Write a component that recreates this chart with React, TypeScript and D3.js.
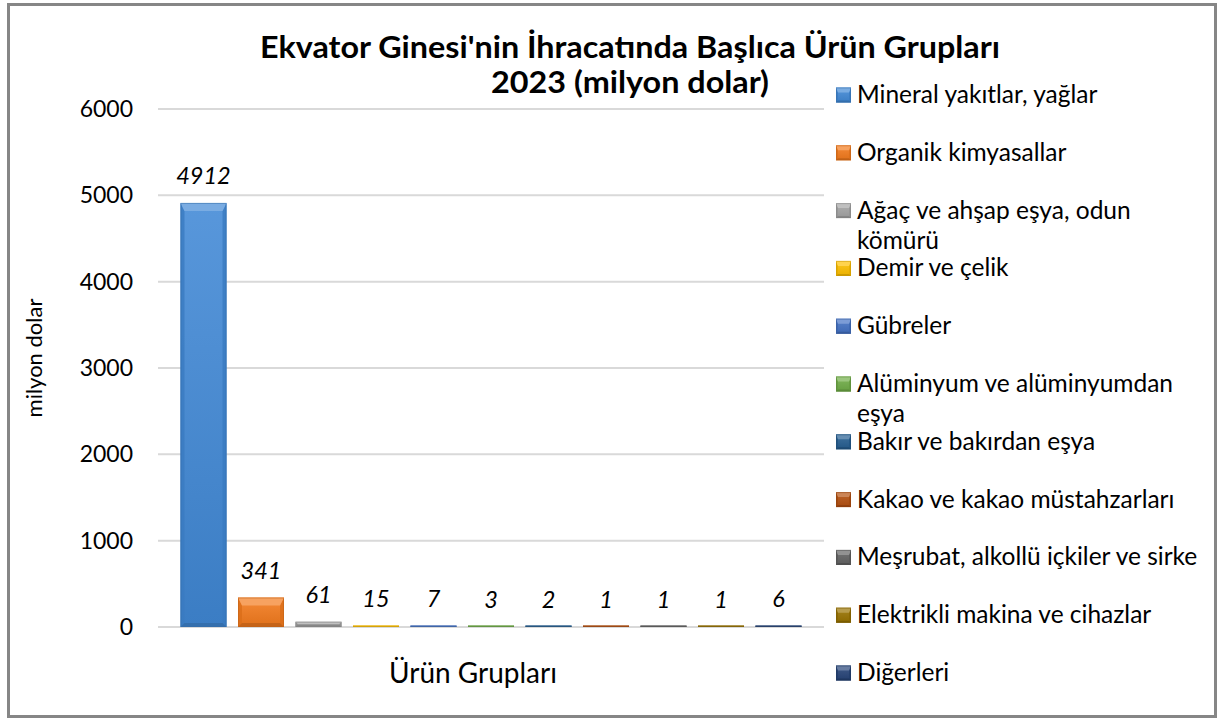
import React from "react";
import * as d3 from "d3";

const categories = [
  "Mineral yakıtlar, yağlar",
  "Organik kimyasallar",
  "Ağaç ve ahşap eşya, odun kömürü",
  "Demir ve çelik",
  "Gübreler",
  "Alüminyum ve alüminyumdan eşya",
  "Bakır ve bakırdan eşya",
  "Kakao ve kakao müstahzarları",
  "Meşrubat, alkollü içkiler ve sirke",
  "Elektrikli makina ve cihazlar",
  "Diğerleri",
];
const values = [4912, 341, 61, 15, 7, 3, 2, 1, 1, 1, 6];
const legendLines = [
  ["Mineral yakıtlar, yağlar"],
  ["Organik kimyasallar"],
  ["Ağaç ve ahşap eşya, odun", "kömürü"],
  ["Demir ve çelik"],
  ["Gübreler"],
  ["Alüminyum ve alüminyumdan", "eşya"],
  ["Bakır ve bakırdan eşya"],
  ["Kakao ve kakao müstahzarları"],
  ["Meşrubat, alkollü içkiler ve sirke"],
  ["Elektrikli makina ve cihazlar"],
  ["Diğerleri"],
];
const colors = [
  "#4189d6", "#f47a1c", "#a5a5a5", "#ffc000", "#4472c4", "#70ad47",
  "#255e91", "#b5500f", "#636363", "#997300", "#264478",
];
const yTicks = [0, 1000, 2000, 3000, 4000, 5000, 6000];
const titleLines = ["Ekvator Ginesi'nin İhracatında Başlıca Ürün Grupları", "2023 (milyon dolar)"];
const titleWidths = [740, 278];
const yTitle = "milyon dolar";
const xTitle = "Ürün Grupları";

const W = 1219, H = 720;
const plotL = 158, plotR = 824, plotT = 109, plotB = 627;

function Bevel({ id, x, y, w, h, color, b, side }: any) {
  const c = d3.color(color) as any;
  const light = d3.interpolateRgb(color, "#ffffff")(0.3);
  const dark = c.darker(0.7).toString();
  const mid = c.darker(0.3).toString();
  const top = d3.interpolateRgb(color, "#ffffff")(0.12);
  const bot = c.darker(0.25).toString();
  const bb = Math.min(b, h / 2, w / 2);
  const sb = Math.min(side, h / 2, w / 2);
  const x2 = x + w, y2 = y + h;
  return (
    <g>
      <defs>
        <linearGradient id={id} x1="0" y1="0" x2="0" y2="1">
          <stop offset="0" stopColor={top} />
          <stop offset="1" stopColor={bot} />
        </linearGradient>
      </defs>
      <rect x={x} y={y} width={w} height={h} fill={`url(#${id})`} />
      <polygon points={`${x},${y} ${x + sb},${y + bb} ${x + sb},${y2 - sb} ${x},${y2}`} fill={mid} opacity={0.8} />
      <polygon points={`${x2},${y} ${x2},${y2} ${x2 - sb},${y2 - sb} ${x2 - sb},${y + bb}`} fill={mid} opacity={0.8} />
      <polygon points={`${x},${y2} ${x + sb},${y2 - sb} ${x2 - sb},${y2 - sb} ${x2},${y2}`} fill={dark} opacity={0.8} />
      <polygon points={`${x},${y} ${x2},${y} ${x2 - sb},${y + bb} ${x + sb},${y + bb}`} fill={light} />
      <rect x={x + 0.5} y={y + 0.5} width={Math.max(0, w - 1)} height={Math.max(0, h - 1)} fill="none" stroke={dark} strokeOpacity={0.5} strokeWidth={1} />
    </g>
  );
}

export default function App() {
  const x = d3.scaleBand<string>().domain(categories).range([plotL + 16.75, plotR - 16.75]).paddingInner(0.2).paddingOuter(0.1);
  const y = d3.scaleLinear().domain([0, 6000]).range([plotB, plotT]);
  const font = "Lato, 'Open Sans', sans-serif";
  const legendY0 = 95, legendStep = 57.8;
  return (
    <svg width={W} height={H} style={{ position: "absolute", left: 0, top: 0, background: "#fff" }} fontFamily={font}>
      <rect x={0} y={0} width={W} height={H} fill="#fff" />
      <rect x={8.5} y={4.5} width={1207} height={712} fill="#fff" stroke="#868686" strokeWidth={3} />
      {titleLines.map((t, i) => (
        <text key={i} x={630} y={58 + i * 35} textAnchor="middle" fontWeight="bold" fontSize={31} fill="#000" textLength={titleWidths[i]} lengthAdjust="spacingAndGlyphs">{t}</text>
      ))}
      {yTicks.map((t) => (
        <g key={t}>
          <line x1={plotL} x2={plotR} y1={y(t)} y2={y(t)} stroke="#d9d9d9" strokeWidth={2} />
          <text x={133} y={y(t) + 8} textAnchor="end" fontSize={23} fill="#000">{t}</text>
        </g>
      ))}
      <text transform={`translate(42,${358}) rotate(-90)`} textAnchor="middle" fontSize={22} fill="#000">{yTitle}</text>
      <text x={473} y={683} textAnchor="middle" fontSize={28} fill="#000">{xTitle}</text>
      {categories.map((c, i) => {
        const bx = x(c)!;
        const bw = x.bandwidth();
        const top = y(values[i]);
        const h = Math.max(plotB - top, 1.5);
        return (
          <g key={c}>
            <Bevel id={`g${i}`} x={bx} y={plotB - h} w={bw} h={h} color={colors[i]} b={8} side={4} />
            <text x={bx + bw / 2} y={top - 19} textAnchor="middle" fontStyle="italic" fontSize={23.5} fill="#000">{values[i]}</text>
          </g>
        );
      })}
      {legendLines.map((lines, i) => {
        const cy = legendY0 + i * legendStep;
        return (
          <g key={i}>
            <Bevel id={`l${i}`} x={836} y={cy - 7.5} w={15} h={15} color={colors[i]} b={5} side={2} />
            {lines.map((l, j) => (
              <text key={j} x={857} y={cy + 8 + j * 30} fontSize={24.5} fill="#000">{l}</text>
            ))}
          </g>
        );
      })}
    </svg>
  );
}
